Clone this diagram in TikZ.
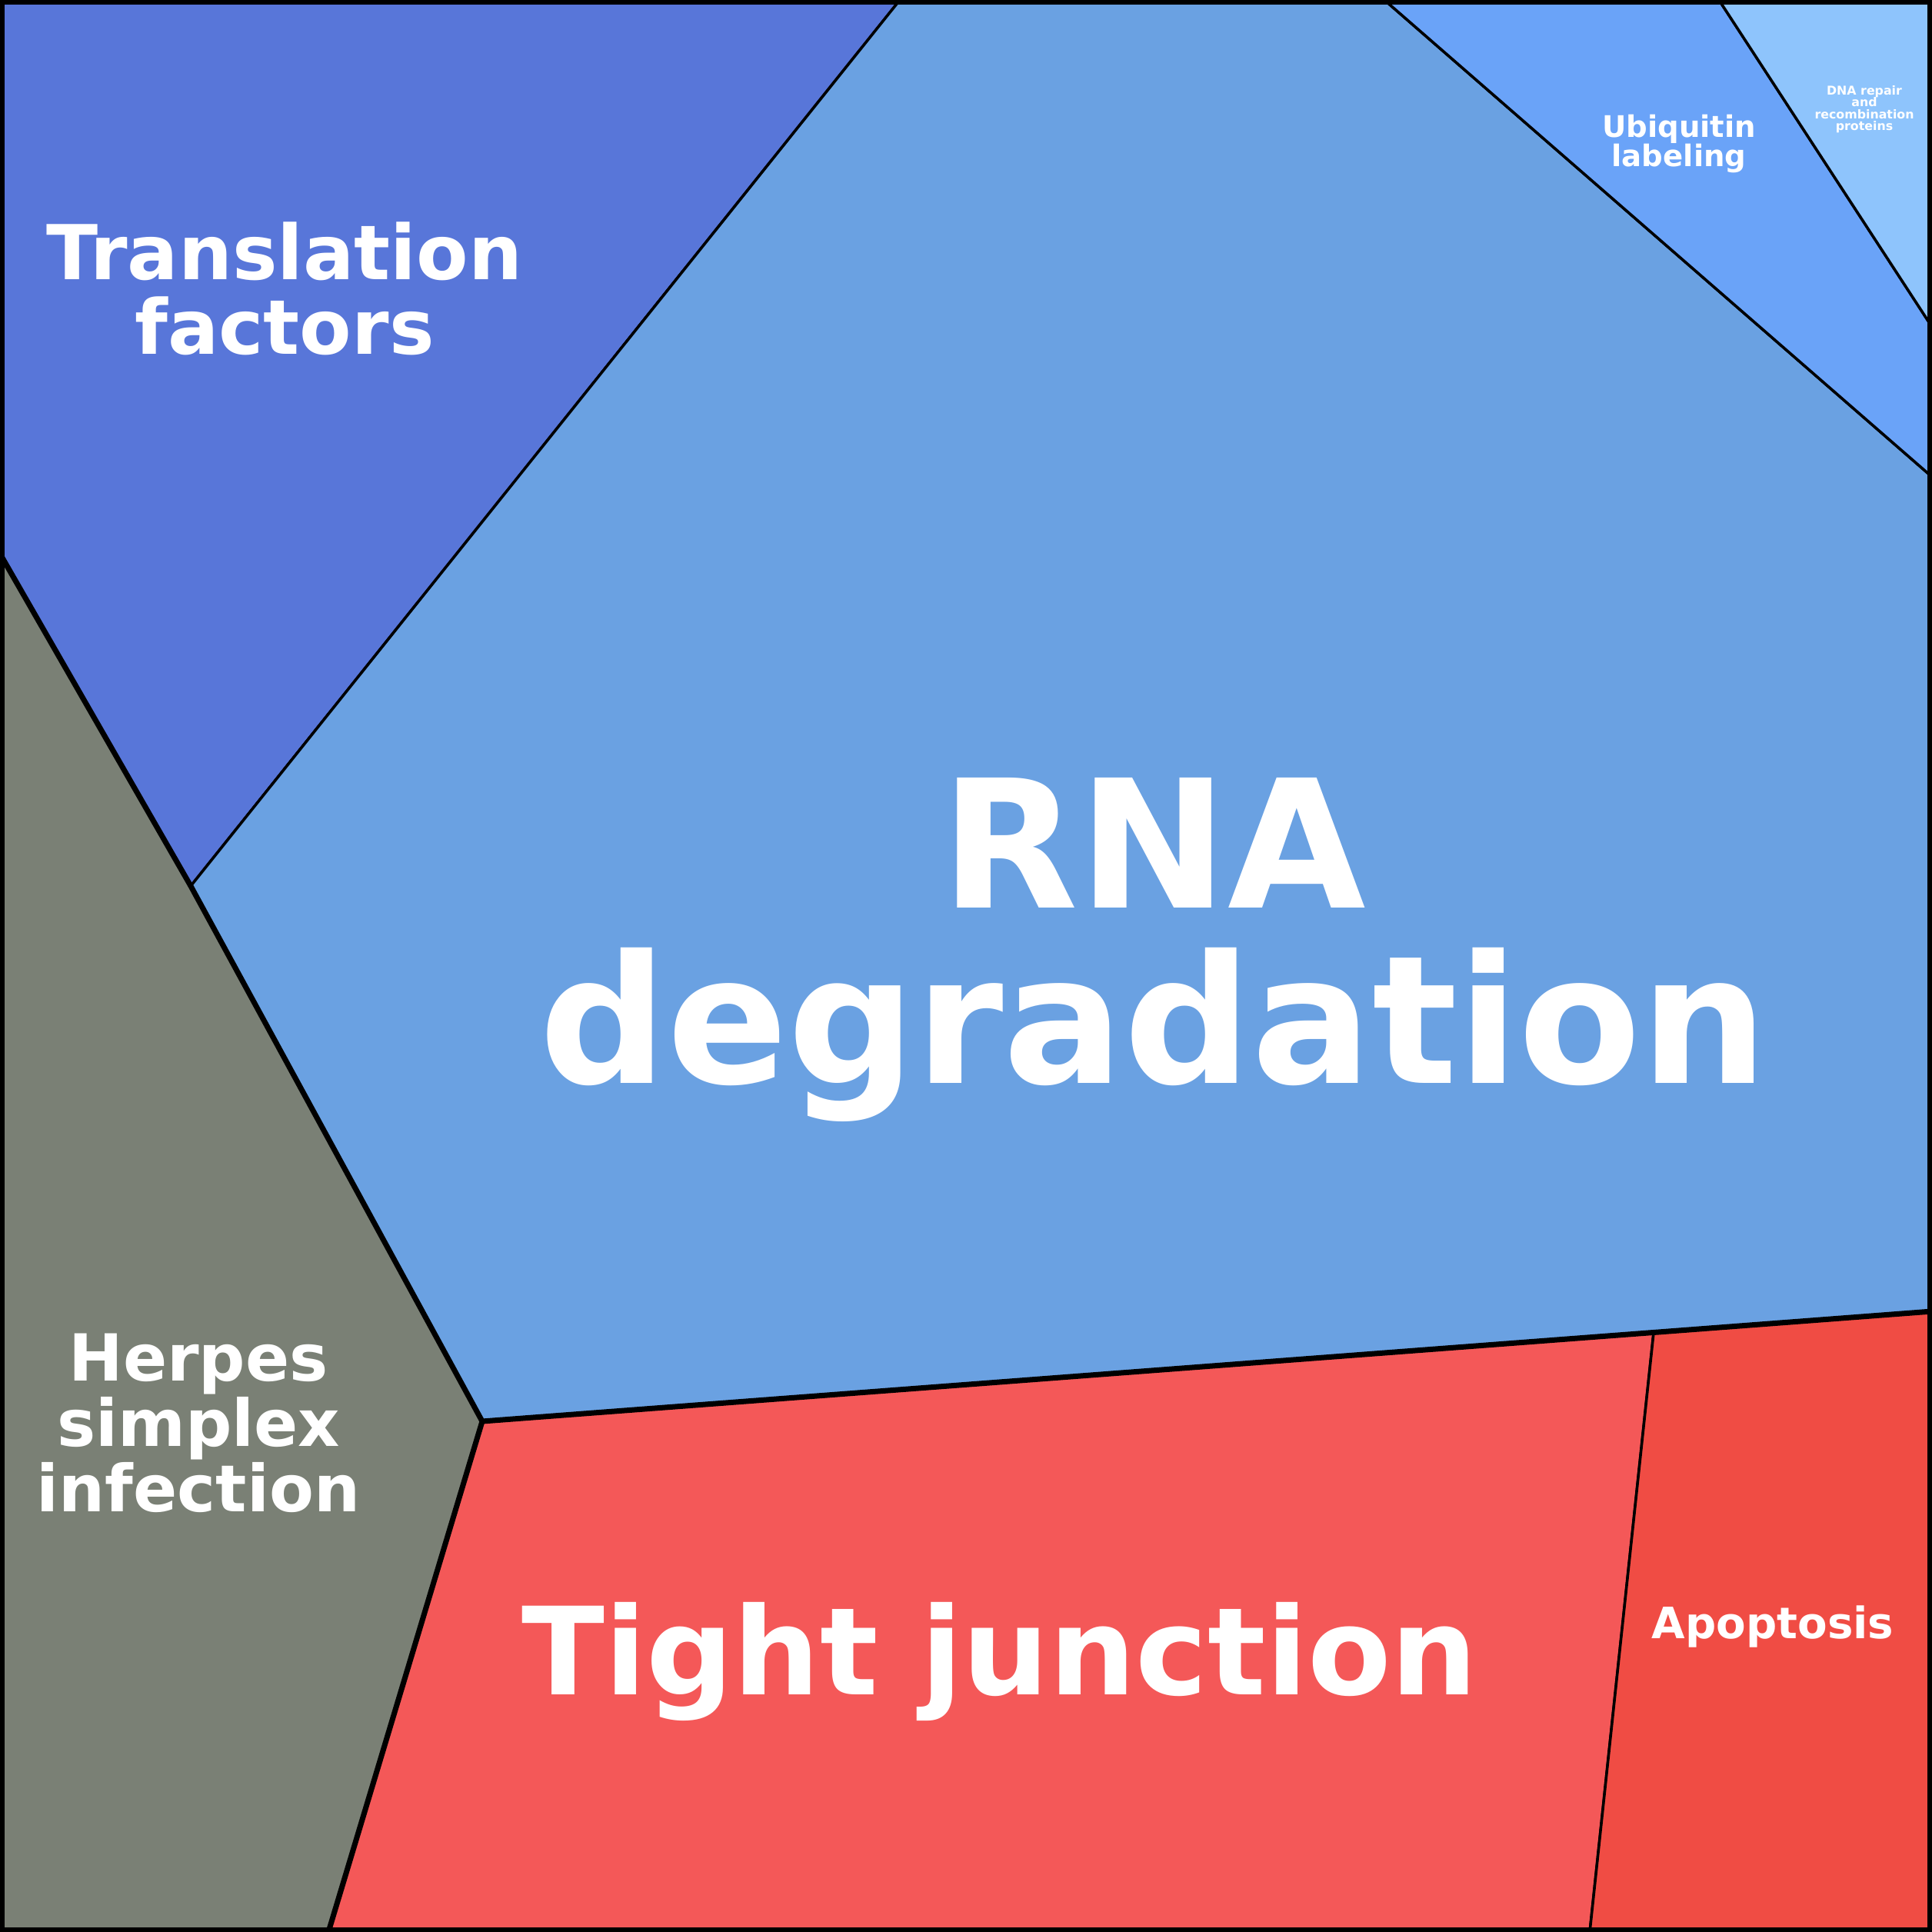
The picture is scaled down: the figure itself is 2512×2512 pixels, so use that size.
\documentclass[tikz,border=0pt]{standalone}
\usepackage{fontspec}
\setmainfont{DejaVu Sans}
\definecolor{transl}{HTML}{5876D9}
\definecolor{rnadeg}{HTML}{6AA1E2}
\definecolor{ubiq}{HTML}{6AA3F8}
\definecolor{dnarep}{HTML}{8EC4FC}
\definecolor{herpes}{HTML}{7A8075}
\definecolor{tight}{HTML}{F45858}
\definecolor{apopt}{HTML}{F04C44}
\begin{document}
\begin{tikzpicture}[x=0.1mm,y=-0.1mm,
    cell/.style={draw=black,line width=0.35mm,line join=round},
    group/.style={draw=black,line width=0.7mm,line join=round},
    lbl/.style={text=white,font=\bfseries,align=center,inner sep=0pt}]
    \useasboundingbox (0,0) rectangle (2512,2512);
    % cells
    \path[cell,fill=transl] (0,0) -- (1170,0) -- (248,1152) -- (0,720) -- cycle;
    \path[cell,fill=rnadeg] (1170,0) -- (1800,0) -- (2512,620) -- (2512,1705) -- (627,1848) -- (248,1152) -- cycle;
    \path[cell,fill=ubiq] (1800,0) -- (2235,0) -- (2512,425) -- (2512,620) -- cycle;
    \path[cell,fill=dnarep] (2235,0) -- (2512,0) -- (2512,425) -- cycle;
    \path[cell,fill=herpes] (0,720) -- (248,1152) -- (627,1848) -- (427,2512) -- (0,2512) -- cycle;
    \path[cell,fill=tight] (627,1848) -- (2150,1733) -- (2067,2512) -- (427,2512) -- cycle;
    \path[cell,fill=apopt] (2150,1733) -- (2512,1705) -- (2512,2512) -- (2067,2512) -- cycle;
    % group borders
    \draw[group] (0,720) -- (248,1152) -- (627,1848) -- (427,2512);
    \draw[group] (627,1848) -- (2512,1705);
    \draw[black,line width=1.3mm] (0,0) rectangle (2512,2512);
    % labels
    \node[lbl,font=\bfseries\fontsize{28}{27.5}\selectfont] (translation) at (370,375) {Translation\\factors};
    \node[lbl,font=\bfseries\fontsize{66}{65}\selectfont] (rna) at (1500,1235) {RNA\\degradation};
    \node[lbl,font=\bfseries\fontsize{11}{11}\selectfont] (ubiquitin) at (2183,187) {Ubiquitin\\labeling};
    \node[lbl,font=\bfseries\fontsize{4.5}{4.4}\selectfont] (dna) at (2424,142) {DNA repair\\and\\recombination\\proteins};
    \node[lbl,font=\bfseries\fontsize{24}{22.5}\selectfont] (herpes) at (258,1850) {Herpes\\simplex\\infection};
    \node[lbl,font=\bfseries\fontsize{45}{45}\selectfont] (tight) at (1300,2160) {Tight junction};
    \node[lbl,font=\bfseries\fontsize{16}{16}\selectfont] (apoptosis) at (2305,2115) {Apoptosis};
\end{tikzpicture}
\end{document}
